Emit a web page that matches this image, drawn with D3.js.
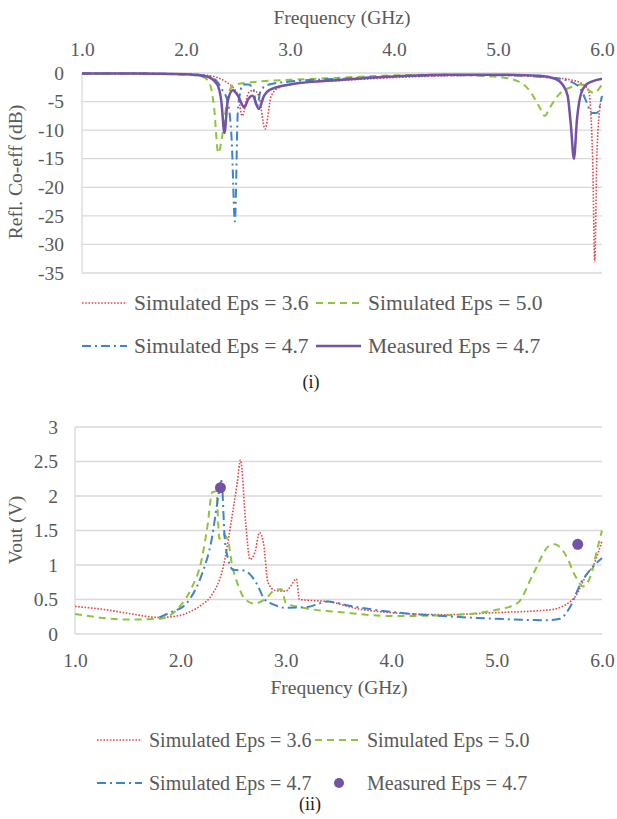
<!DOCTYPE html>
<html>
<head>
<meta charset="utf-8">
<script src="https://cdn.jsdelivr.net/npm/d3@7"></script>
<style>
  body { margin: 0; background: #fff; }
</style>
</head>
<body>
<svg id="chart" width="617" height="819"></svg>
<script>
// ---- panel (i): reflection coefficient (dB) ----
const s11TickX = [1, 2, 3, 4, 5, 6];
const s11TickY = [0, -5, -10, -15, -20, -25, -30, -35];

const s11Freq36 = [1.0,1.5,2.0,2.2,2.3,2.38,2.45,2.5,2.54,2.6,2.65,2.7,2.76,2.82,2.9,3.0,3.5,4.0,4.5,5.0,5.5,5.7,5.8,5.87,5.91,5.93,5.95,5.98,6.0];
const s11Eps36  = [-0.1,-0.1,-0.2,-0.4,-0.8,-1.5,-2.5,-4,-7.5,-3.5,-3,-4,-9.8,-4,-2.5,-2,-1.3,-0.8,-0.5,-0.4,-0.8,-1.2,-1.8,-3,-15,-33,-15,-6,-4];

const s11Freq50 = [1.0,1.5,2.0,2.15,2.22,2.27,2.31,2.34,2.37,2.42,2.47,2.55,2.7,3.0,3.5,4.0,4.5,5.0,5.2,5.3,5.4,5.45,5.5,5.6,5.7,5.8,5.87,5.92,6.0];
const s11Eps50  = [-0.1,-0.1,-0.3,-0.6,-1.5,-6,-14,-12,-8,-3,-2,-1.8,-1.5,-1.2,-0.8,-0.4,-0.3,-0.7,-1.5,-3,-6,-7.5,-6,-3.5,-2.5,-2,-3,-3.5,-2];

const s11Freq47 = [1.0,1.5,2.0,2.2,2.3,2.35,2.4,2.44,2.47,2.5,2.55,2.6,2.65,2.68,2.72,2.8,3.0,3.5,4.0,4.5,5.0,5.5,5.7,5.8,5.85,5.9,5.95,6.0];
const s11Eps47  = [-0.1,-0.1,-0.2,-0.5,-1.5,-3,-5,-12,-26,-6,-2,-2,-3,-6,-3,-2,-1.5,-1,-0.6,-0.4,-0.4,-0.8,-1.5,-3,-5,-7,-7,-4];

const s11FreqMeas = [1.0,1.5,2.0,2.2,2.3,2.34,2.37,2.4,2.45,2.5,2.56,2.6,2.64,2.7,2.75,2.8,3.0,3.5,4.0,4.5,5.0,5.4,5.55,5.62,5.67,5.7,5.73,5.76,5.8,5.85,5.9,6.0];
const s11Meas     = [-0.1,-0.1,-0.2,-0.6,-2,-5,-10.5,-5,-3,-4,-6,-4.5,-4,-6.3,-4,-3,-2,-1.2,-0.6,-0.3,-0.3,-0.5,-1,-2,-4,-9,-15,-8,-3.5,-2,-1.5,-1];

// ---- panel (ii): output voltage (V) ----
const voutTickX = [1, 2, 3, 4, 5, 6];
const voutTickY = [0, 0.5, 1, 1.5, 2, 2.5, 3];

const voutFreq36 = [1.0,1.3,1.5,1.8,2.0,2.1,2.2,2.3,2.4,2.5,2.54,2.57,2.62,2.66,2.71,2.75,2.79,2.83,2.9,3.0,3.05,3.1,3.13,3.2,3.4,3.7,4.0,4.5,5.0,5.5,5.65,5.75,5.85,5.92,6.0];
const voutEps36  = [0.4,0.35,0.3,0.24,0.27,0.33,0.42,0.57,0.93,1.8,2.2,2.52,1.6,1.08,1.2,1.47,1.3,0.75,0.63,0.62,0.7,0.8,0.5,0.49,0.47,0.36,0.31,0.28,0.31,0.35,0.42,0.55,0.85,1.0,1.35];

const voutFreq50 = [1.0,1.5,1.8,2.0,2.1,2.2,2.26,2.3,2.34,2.37,2.4,2.45,2.49,2.55,2.6,2.7,2.8,2.9,2.96,3.0,3.2,3.5,4.0,4.5,5.0,5.2,5.35,5.5,5.55,5.65,5.75,5.82,5.9,5.95,6.0];
const voutEps50  = [0.29,0.21,0.22,0.41,0.65,1.07,1.6,2.05,2.07,1.38,1.45,1.36,1.0,0.7,0.53,0.44,0.5,0.64,0.65,0.45,0.37,0.32,0.26,0.27,0.35,0.45,0.88,1.28,1.3,1.16,0.83,0.69,0.88,1.2,1.5];

const voutFreq47 = [1.8,1.95,2.0,2.1,2.2,2.3,2.35,2.39,2.42,2.45,2.5,2.6,2.65,2.72,2.8,2.88,3.0,3.2,3.4,3.6,4.0,4.5,5.0,5.5,5.6,5.7,5.8,5.9,6.0];
const voutEps47  = [0.24,0.34,0.37,0.53,0.85,1.4,1.9,2.22,1.4,1.1,0.93,0.92,0.88,0.74,0.5,0.43,0.38,0.39,0.47,0.41,0.32,0.26,0.22,0.2,0.22,0.4,0.74,0.95,1.1];

const voutFreqMeas = [2.38, 5.77];
const voutMeas     = [2.12, 1.3];

const legendLabels = ["Simulated Eps = 3.6", "Simulated Eps = 5.0", "Simulated Eps = 4.7", "Measured Eps = 4.7"];

const styles = {
  eps36: { color: "#e2474b", width: 1.6, dash: "1.6,1.6" },
  eps50: { color: "#8cc43f", width: 2, dash: "7,5" },
  eps47: { color: "#3f83c9", width: 2, dash: "9,4,2,4" },
  meas:  { color: "#7452a6", width: 2.5, dash: null }
};

const FONT = "Liberation Serif";
const TXT = "#595959";

const svg = d3.select("#chart");
const gridColor = "#d9d9d9";

function pairs(xs, ys) { return xs.map((f, i) => [f, ys[i]]); }

function label(g, x, y, str, size, anchor) {
  return g.append("text").attr("x", x).attr("y", y)
    .attr("font-family", FONT).attr("font-size", size).attr("fill", TXT)
    .attr("text-anchor", anchor || "start").text(str);
}

function drawLines(g, x, y, series) {
  const line = d3.line().x(d => x(d[0])).y(d => y(d[1])).curve(d3.curveMonotoneX);
  series.forEach(s => {
    g.append("path")
      .datum(pairs(s.xs, s.ys))
      .attr("fill", "none")
      .attr("stroke", s.st.color)
      .attr("stroke-width", s.st.width)
      .attr("stroke-dasharray", s.st.dash)
      .attr("d", line);
  });
}

function drawGrid(g, x, y, ticksY) {
  g.append("g").selectAll("line").data(ticksY).join("line")
    .attr("x1", x.range()[0]).attr("x2", x.range()[1])
    .attr("y1", d => y(d)).attr("y2", d => y(d))
    .attr("stroke", gridColor).attr("stroke-width", 1.3);
  g.append("line")
    .attr("x1", x.range()[0]).attr("x2", x.range()[0])
    .attr("y1", y.range()[0]).attr("y2", y.range()[1])
    .attr("stroke", gridColor).attr("stroke-width", 1.3);
}

function styleAxis(ax) {
  ax.select(".domain").remove();
  ax.attr("font-family", FONT);
  ax.selectAll("text").attr("font-family", FONT).attr("font-size", 19.5).attr("fill", TXT);
}

// 2 x 2 legend; lay = {s1, t1, s2, t2, dotX, y0, dy, size}
function legend(g, lay, items) {
  items.forEach((it, i) => {
    const col = i % 2, cy = lay.y0 + Math.floor(i / 2) * lay.dy;
    const sx = col === 0 ? lay.s1 : lay.s2;
    if (it.dot) {
      g.append("circle").attr("cx", lay.dotX).attr("cy", cy).attr("r", 5).attr("fill", it.st.color);
    } else {
      g.append("line")
        .attr("x1", sx).attr("x2", sx + 45).attr("y1", cy).attr("y2", cy)
        .attr("stroke", it.st.color).attr("stroke-width", it.st.width)
        .attr("stroke-dasharray", it.st.dash);
    }
    label(g, col === 0 ? lay.t1 : lay.t2, cy + lay.size * 0.33, it.label, lay.size);
  });
}

// ================= panel (i) =================
{
  const g = svg.append("g");
  const x = d3.scaleLinear().domain([1, 6]).range([82, 602]);
  const y = d3.scaleLinear().domain([-35, 0]).range([273, 73]);
  drawGrid(g, x, y, s11TickY);

  const xAxis = g.append("g").attr("transform", "translate(0,41)")
    .call(d3.axisTop(x).tickValues(s11TickX).tickFormat(d3.format(".1f")).tickSize(0));
  styleAxis(xAxis);
  xAxis.selectAll("text").attr("dy", "0.9em");

  const yAxis = g.append("g").attr("transform", "translate(64,0)")
    .call(d3.axisLeft(y).tickValues(s11TickY).tickFormat(d => d).tickSize(0));
  styleAxis(yAxis);
  yAxis.selectAll("text").attr("x", 0).text(d => d < 0 ? "-" + Math.abs(d) : d);

  label(g, 342, 24, "Frequency (GHz)", 19.5, "middle");
  label(g, 0, 0, "Refl. Co-eff (dB)", 19.5, "middle")
    .attr("transform", "translate(22,172) rotate(-90)");

  drawLines(g, x, y, [
    { xs: s11Freq36, ys: s11Eps36, st: styles.eps36 },
    { xs: s11Freq50, ys: s11Eps50, st: styles.eps50 },
    { xs: s11Freq47, ys: s11Eps47, st: styles.eps47 },
    { xs: s11FreqMeas, ys: s11Meas, st: styles.meas }
  ]);

  legend(g, { s1: 82, t1: 134, s2: 316, t2: 368, y0: 303, dy: 43, size: 21.5 }, [
    { label: legendLabels[0], st: styles.eps36 },
    { label: legendLabels[1], st: styles.eps50 },
    { label: legendLabels[2], st: styles.eps47 },
    { label: legendLabels[3], st: styles.meas }
  ]);
  label(g, 311, 388, "(i)", 18, "middle").attr("fill", "#222");
}

// ================= panel (ii) =================
{
  const g = svg.append("g");
  const x = d3.scaleLinear().domain([1, 6]).range([75, 602]);
  const y = d3.scaleLinear().domain([0, 3]).range([634, 427]);
  drawGrid(g, x, y, voutTickY);

  const xAxis = g.append("g").attr("transform", "translate(0,650)")
    .call(d3.axisBottom(x).tickValues(voutTickX).tickFormat(d3.format(".1f")).tickSize(0));
  styleAxis(xAxis);

  const yAxis = g.append("g").attr("transform", "translate(58,0)")
    .call(d3.axisLeft(y).tickValues(voutTickY).tickFormat(d => d).tickSize(0));
  styleAxis(yAxis);
  yAxis.selectAll("text").attr("x", 0);

  label(g, 339, 694, "Frequency (GHz)", 19.5, "middle");
  label(g, 0, 0, "Vout (V)", 19.5, "middle")
    .attr("transform", "translate(22,530) rotate(-90)");

  drawLines(g, x, y, [
    { xs: voutFreq36, ys: voutEps36, st: styles.eps36 },
    { xs: voutFreq50, ys: voutEps50, st: styles.eps50 },
    { xs: voutFreq47, ys: voutEps47, st: styles.eps47 }
  ]);
  g.append("g").selectAll("circle").data(pairs(voutFreqMeas, voutMeas)).join("circle")
    .attr("cx", d => x(d[0])).attr("cy", d => y(d[1])).attr("r", 5.5)
    .attr("fill", styles.meas.color);

  legend(g, { s1: 97, t1: 149, s2: 315, t2: 367, dotX: 339, y0: 740, dy: 43, size: 20 }, [
    { label: legendLabels[0], st: styles.eps36 },
    { label: legendLabels[1], st: styles.eps50 },
    { label: legendLabels[2], st: styles.eps47 },
    { label: legendLabels[3], st: styles.meas, dot: true }
  ]);
  label(g, 310, 810, "(ii)", 18, "middle").attr("fill", "#222");
}
</script>
</body>
</html>
